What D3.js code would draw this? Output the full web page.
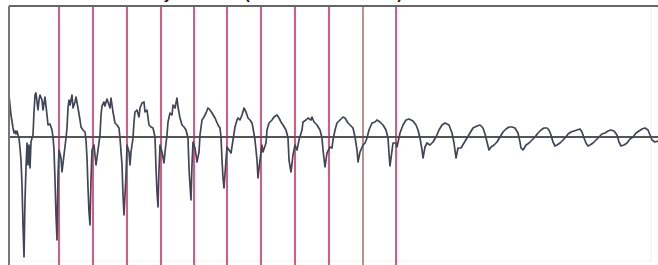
<!DOCTYPE html>
<html>
<head>
  <script src="https://d3js.org/d3.v7.min.js"></script>
  <style>
    body { margin: 0; background: #fff; font-family: "Liberation Sans", Arial, sans-serif; }
  </style>
</head>
<body>
<div id="chart"></div>
<script>
const width = 658;
const height = 265;

// title (only the bottom of it is inside the picture)
const title = "Airway Pressure (cmH2O Breath Trace)";

// marker times (samples) of the red vertical lines
const markerTimes = [50, 84, 118, 152, 185, 218, 252, 286, 320, 354, 387];

// pressure trace: [sample, value]
const trace = [
  [0,42],[2,22],[4,9],[5,4],[6,6],[7,3],[8,6],[9,2],[10,-1],[11,-11],[12,-23],[13,-48],[14,-88],[15,-120],
  [16,-63],[17,-31],[18,-6],[19,-28],[20,-8],[21,-31],[22,-5],[23,-1],[24,2],[25,25],[26,42],[27,44],
  [28,35],[29,27],[30,37],[31,42],[33,37],[34,27],[36,40],[38,22],[39,12],[41,13],[43,7],[44,0],
  [45,-13],[46,-43],[47,-78],[48,-103],
  [49,-38],[50,-13],[52,-21],[53,-35],[55,-18],[57,-1],[58,9],[59,29],[60,37],[61,32],[63,42],[64,29],
  [66,35],[67,40],[69,29],[71,17],[72,10],[74,7],[76,5],[77,-3],[78,-21],[79,-51],[80,-75],[81,-88],
  [82,-43],[83,-13],[85,-8],[87,-28],[89,-13],[91,2],[92,22],[93,31],[95,35],[96,31],[98,38],[100,32],
  [101,29],[102,39],[104,25],[106,14],[108,12],[110,9],[111,-1],[113,-28],[114,-58],[115,-78],
  [117,-38],[118,-8],[120,-15],[121,-28],[122,-15],[124,-1],[125,15],[126,25],[128,27],[130,20],[131,29],
  [133,34],[135,35],[136,25],[138,27],[140,12],[142,10],[144,9],[146,0],[147,-31],[148,-55],[149,-70],
  [150,-33],[151,-8],[153,-15],[155,-26],[156,-15],[158,2],[159,15],[161,24],[163,22],[164,32],[166,29],
  [168,39],[169,30],[171,19],[173,12],[175,10],[177,7],[179,-1],[180,-31],[181,-48],[182,-63],
  [183,-28],[184,-5],[186,-11],[188,-25],[190,-15],[191,2],[193,17],[195,20],[197,24],[199,29],[201,27],
  [203,24],[206,19],[209,12],[211,9],[212,0],[213,-23],[214,-41],[215,-51],
  [217,-23],[218,-10],[220,-13],[222,-16],[224,-3],[226,10],[228,17],[229,19],[231,17],[233,22],[235,29],
  [237,25],[239,19],[241,17],[243,14],[244,9],[246,-3],[248,-23],[249,-41],
  [251,-23],[253,-8],[254,-15],[257,-6],[258,7],[260,14],[263,17],[265,20],[268,22],[270,19],[272,15],
  [274,12],[277,7],[279,-1],[280,-23],[282,-35],
  [284,-18],[286,-8],[288,-13],[290,-3],[293,7],[294,15],[297,17],[299,19],[302,17],[303,20],[305,15],
  [308,12],[311,7],[313,-1],[314,-13],[316,-30],
  [318,-16],[321,-10],[323,-11],[324,-3],[326,7],[328,14],[331,17],[334,20],[336,19],[339,14],[343,10],
  [344,9],[346,0],[348,-13],[349,-25],
  [351,-15],[354,-8],[356,-6],[358,-1],[360,7],[363,14],[366,15],[368,17],[371,15],[374,12],[377,7],
  [379,-1],[380,-16],[381,-29],
  [384,-6],[387,-6],[388,-10],[391,4],[394,12],[397,17],[400,18],[404,16],[407,12],[409,7],[411,-1],
  [413,-13],[414,-21],
  [416,-10],[418,-6],[421,-8],[424,-5],[427,0],[430,7],[433,12],[436,14],[440,12],[443,4],[445,-6],[447,-21],
  [449,-11],[452,-11],[455,-6],[458,-1],[461,4],[464,9],[468,11],[471,12],[474,9],[476,3],[478,-5],[480,-13],
  [482,-10],[485,-8],[488,-5],[491,0],[494,5],[497,8],[500,10],[503,10],[506,9],[509,4],[511,-5],[512,-11],[514,-13],
  [517,-8],[520,-6],[523,-3],[526,0],[529,4],[532,7],[535,9],[538,9],[540,7],[542,2],[544,-5],[546,-9],[548,-8],
  [551,-6],[554,-3],[557,0],[559,3],[562,5],[565,6],[568,7],[571,8],[573,5],[575,-1],[577,-6],[579,-9],[581,-8],
  [584,-6],[587,-3],[590,0],[593,3],[596,4],[599,6],[602,7],[605,6],[608,2],[610,-5],[612,-9],[615,-8],
  [618,-6],[621,-2],[624,0],[627,4],[630,6],[633,8],[636,9],[639,7],[641,2],[643,-3],[646,-5],[649,-4]
];

const svg = d3.select('#chart')
  .append('svg')
  .attr('width', width)
  .attr('height', height);

const x = d3.scaleLinear().domain([0, 650]).range([9, 659]);
const y = d3.scaleLinear().domain([-131, 131]).range([268, 6]);

// title, mostly above the visible area
svg.append('text')
  .attr('x', 123)
  .attr('y', -1)
  .attr('font-size', '15px')
  .attr('font-weight', 'bold')
  .attr('fill', '#111')
  .text(title);

// faint right / bottom edges of the scanned frame
svg.append('line')
  .attr('x1', 651).attr('x2', 651)
  .attr('y1', y(131)).attr('y2', 262)
  .attr('stroke', '#f4f1e8').attr('stroke-width', 1);
svg.append('line')
  .attr('x1', x(0)).attr('x2', 651)
  .attr('y1', 261).attr('y2', 261)
  .attr('stroke', '#f4f2ec').attr('stroke-width', 1);

// red markers
svg.append('g')
  .selectAll('line')
  .data(markerTimes)
  .join('line')
    .attr('x1', d => x(d))
    .attr('x2', d => x(d))
    .attr('y1', y(131))
    .attr('y2', height)
    .attr('stroke', (d, i) => i === 9 ? '#b8928a' : '#dc5a82')
    .attr('stroke-width', 2);

// zero line
svg.append('line')
  .attr('x1', x(0)).attr('x2', width)
  .attr('y1', y(0)).attr('y2', y(0))
  .attr('stroke', '#555')
  .attr('stroke-width', 1.8);

// trace
const line = d3.line()
  .x(d => x(d[0]))
  .y(d => y(d[1]));

svg.append('path')
  .datum(trace)
  .attr('fill', 'none')
  .attr('stroke', '#404656')
  .attr('stroke-width', 1.7)
  .attr('stroke-linejoin', 'round')
  .attr('d', line);

// frame: top and left
svg.append('line')
  .attr('x1', x(0)).attr('x2', width)
  .attr('y1', y(131)).attr('y2', y(131))
  .attr('stroke', '#666').attr('stroke-width', 2);
svg.append('line')
  .attr('x1', x(0)).attr('x2', x(0))
  .attr('y1', y(131)).attr('y2', height)
  .attr('stroke', '#777').attr('stroke-width', 2);
</script>
</body>
</html>
